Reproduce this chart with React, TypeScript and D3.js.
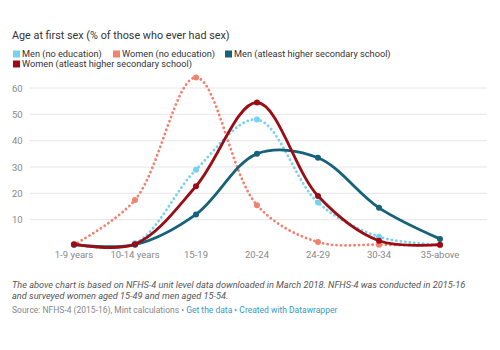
import { useEffect, useRef } from 'react';
import * as d3 from 'd3';

const categories = ['1-9 years', '10-14 years', '15-19', '20-24', '24-29', '30-34', '35-above'];
const menNoEdu = [0.5, 1, 29, 48, 16.5, 3.5, 0.5];
const womenNoEdu = [0.5, 17.5, 64, 15.5, 1.5, 0.5, 0.3];
const menHigher = [0.5, 0.5, 12, 35, 33.5, 14.5, 2.7];
const womenHigher = [0.7, 0.7, 22.7, 54.5, 19, 2, 0.5];
const yTicks = [10, 20, 30, 40, 50, 60];

const series = [
  { name: 'Men (no education)', values: menNoEdu, color: '#74d3ee', dotted: true },
  { name: 'Women (no education)', values: womenNoEdu, color: '#f2826f', dotted: true },
  { name: 'Men (atleast higher secondary school)', values: menHigher, color: '#15627a', dotted: false },
  { name: 'Women (atleast higher secondary school)', values: womenHigher, color: '#9c0c14', dotted: false },
];

function App() {
  const svgRef = useRef<SVGSVGElement>(null);

  useEffect(() => {
    const width = 500;
    const height = 350;
    const svg = d3.select(svgRef.current);
    svg.selectAll('*').remove();
    svg.attr('width', width).attr('height', height);

    const font = 'Roboto, "Noto Sans", sans-serif';

    // Title
    svg.append('text')
      .attr('x', 12)
      .attr('y', 39)
      .attr('fill', '#333')
      .style('font-family', font)
      .style('font-size', '10.8px')
      .text('Age at first sex (% of those who ever had sex)');

    // Legend
    const legendPos = [
      { x: 13, y: 54 },
      { x: 113, y: 54 },
      { x: 225, y: 54 },
      { x: 13, y: 64 },
    ];
    series.forEach((s, i) => {
      const g = svg.append('g').attr('transform', `translate(${legendPos[i].x},${legendPos[i].y})`);
      g.append('rect').attr('x', 0).attr('y', -3.5).attr('width', 7).attr('height', 7).attr('fill', s.color);
      g.append('text')
        .attr('x', 9)
        .attr('y', 3)
        .attr('fill', '#333')
        .style('font-family', font)
        .style('font-size', '9.2px')
        .text(s.name);
    });

    // Scales
    const x = d3.scalePoint<string>()
      .domain(categories)
      .range([74, 440]);

    const y = d3.scaleLinear()
      .domain([0, 60])
      .range([246, 88]);

    // Grid
    svg.append('g')
      .selectAll('line')
      .data(yTicks)
      .join('line')
      .attr('x1', 30)
      .attr('x2', 487)
      .attr('y1', d => y(d))
      .attr('y2', d => y(d))
      .attr('stroke', '#e6e6e6')
      .attr('stroke-width', 1);

    svg.append('g')
      .selectAll('text')
      .data(yTicks)
      .join('text')
      .attr('x', 12)
      .attr('y', d => y(d) + 3.5)
      .attr('fill', '#888')
      .style('font-family', font)
      .style('font-size', '9.5px')
      .text(d => d);

    // X labels
    svg.append('g')
      .selectAll('text')
      .data(categories)
      .join('text')
      .attr('x', d => x(d)!)
      .attr('y', 258)
      .attr('text-anchor', 'middle')
      .attr('fill', '#888')
      .style('font-family', font)
      .style('font-size', '9.5px')
      .text(d => d);

    const line = d3.line<number>()
      .x((_, i) => x(categories[i])!)
      .y(d => y(d))
      .curve(d3.curveCatmullRom.alpha(0.5));

    series.forEach(s => {
      svg.append('path')
        .datum(s.values)
        .attr('fill', 'none')
        .attr('stroke', s.color)
        .attr('stroke-width', s.dotted ? 2.8 : 2.8)
        .attr('stroke-linecap', 'round')
        .attr('stroke-dasharray', s.dotted ? '0.1,4.4' : null)
        .attr('d', line);

      svg.append('g')
        .selectAll('circle')
        .data(s.values)
        .join('circle')
        .attr('cx', (_, i) => x(categories[i])!)
        .attr('cy', d => y(d))
        .attr('r', 3)
        .attr('fill', s.color);
    });

    // Notes
    const notes = [
      'The above chart is based on NFHS-4 unit level data downloaded in March 2018. NFHS-4 was conducted in 2015-16',
      'and surveyed women aged 15-49 and men aged 15-54.',
    ];
    notes.forEach((t, i) => {
      svg.append('text')
        .attr('x', 12)
        .attr('y', 288 + i * 11)
        .attr('fill', '#555')
        .style('font-family', font)
        .style('font-style', 'italic')
        .style('font-size', '9.2px')
        .text(t);
    });

    const src = svg.append('text')
      .attr('x', 12)
      .attr('y', 313)
      .style('font-family', font)
      .style('font-size', '8.5px');
    src.append('tspan').attr('fill', '#888').text('Source: NFHS-4 (2015-16), Mint calculations • ');
    src.append('tspan').attr('fill', '#3a9bbf').text('Get the data');
    src.append('tspan').attr('fill', '#888').text(' • ');
    src.append('tspan').attr('fill', '#3a9bbf').text('Created with Datawrapper');
  }, []);

  return <svg ref={svgRef} style={{ position: 'absolute', left: 0, top: 0 }}></svg>;
}

export default App;
